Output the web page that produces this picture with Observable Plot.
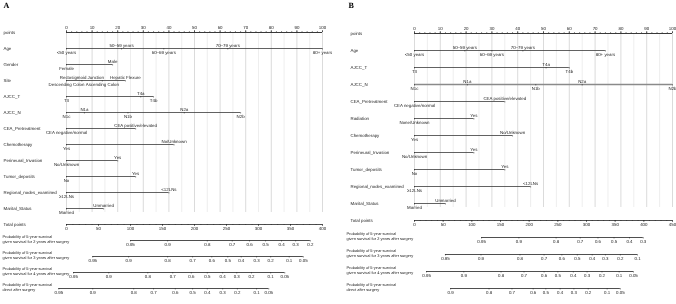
<!DOCTYPE html>
<html><head><meta charset="utf-8">
<script src="https://cdn.jsdelivr.net/npm/d3@7"></script>
<script src="https://cdn.jsdelivr.net/npm/@observablehq/plot@0.6"></script>
<style>
body{margin:0;background:#fff;}
#wrap{display:flex;width:676px;height:304px;overflow:hidden;background:#fff;}
#wrap svg{display:block;will-change:transform;-webkit-font-smoothing:antialiased;text-rendering:geometricPrecision;}
</style></head><body><div id="wrap"></div>
<script>
// ---------------- Panel A data ----------------
const aRows = ["points","Age","Gender","Site","AJCC_T","AJCC_N","CEA_Pretreatment","Chemotherapy","Perineural_Invasion","Tumor_deposits","Regional_nodes_examined","Marital_Status","Total points","p2","p3","p4","p0"];
const aAgeLevels = ["<50 years","50–59 years","60–69 years","70–79 years","80+ years"];
const aAgePoints = [0,21.5,38,63,100];
const aGenderLevels = ["Female","Male"];
const aGenderPoints = [0,18];
const aSiteLevels = ["Descending Colon","Rectosigmoid Junction","Ascending Colon","Hepatic Flexure"];
const aSitePoints = [0,6,14,23];
const aTLevels = ["T3","T4a","T4b"];
const aTPoints = [0,29,34];
const aNLevels = ["N1c","N1a","N1b","N2a","N2b"];
const aNPoints = [0,7,24,46,68];
const aCEALevels = ["CEA negative/normal","CEA positive/elevated"];
const aCEAPoints = [0,27];
const aChemoLevels = ["Yes","No/Unknown"];
const aChemoPoints = [0,42];
const aPeriLevels = ["No/Unknown","Yes"];
const aPeriPoints = [0,20];
const aTumorLevels = ["No","Yes"];
const aTumorPoints = [0,27];
const aNodesLevels = ["≥12LNs","<12LNs"];
const aNodesPoints = [0,40];
const aMaritalLevels = ["Married","Unmarried"];
const aMaritalPoints = [0,14.5];
const aTotalMax = 400;
const aP2Probs = [0.95,0.9,0.8,0.7,0.6,0.5,0.4,0.3,0.2];
const aP2Total = [100,158,220,259,286,311,336,358,381];
const aP3Probs = [0.95,0.9,0.8,0.7,0.6,0.5,0.4,0.3,0.2,0.1,0.05];
const aP3Total = [41,97,158,197,227,252,273,297,319,348,370];
const aP4Probs = [0.95,0.9,0.8,0.7,0.6,0.5,0.4,0.3,0.2,0.1,0.05];
const aP4Total = [11,66,127,166,195,220,244,266,289,319,341];
const aP0Probs = [0.95,0.9,0.8,0.7,0.6,0.5,0.4,0.3,0.2,0.1,0.05];
const aP0Total = [-12,41,105,136,170,197,220,244,267,297,316];

// ---------------- Panel B data ----------------
const bRows = ["points","Age","AJCC_T","AJCC_N","CEA_Pretreatment","Radiation","Chemotherapy","Perineural_Invasion","Tumor_deposits","Regional_nodes_examined","Marital_Status","Total points","p2","p3","p4","p0"];
const bAgeLevels = ["<50 years","50–59 years","60–69 years","70–79 years","80+ years"];
const bAgePoints = [0,19.5,30,42,74];
const bTLevels = ["T3","T4a","T4b"];
const bTPoints = [0,51,60];
const bNLevels = ["N1c","N1a","N1b","N2a","N2b"];
const bNPoints = [0,20.5,47,65,100];
const bCEALevels = ["CEA negative/normal","CEA positive/elevated"];
const bCEAPoints = [0,35];
const bRadLevels = ["None/Unknown","Yes"];
const bRadPoints = [0,23];
const bChemoLevels = ["Yes","No/Unknown"];
const bChemoPoints = [0,38];
const bPeriLevels = ["No/Unknown","Yes"];
const bPeriPoints = [0,23];
const bTumorLevels = ["No","Yes"];
const bTumorPoints = [0,35];
const bNodesLevels = ["≥12LNs","<12LNs"];
const bNodesPoints = [0,45];
const bMaritalLevels = ["Married","Unmarried"];
const bMaritalPoints = [0,12];
const bTotalMax = 450;
const bP2Probs = [0.95,0.9,0.8,0.7,0.6,0.5,0.4,0.3];
const bP2Total = [117,182,247,289,320,348,375,399];
const bP3Probs = [0.95,0.9,0.8,0.7,0.6,0.5,0.4,0.3,0.2,0.1];
const bP3Total = [54,116,184,226,257,284,310,333,359,389];
const bP4Probs = [0.95,0.9,0.8,0.7,0.6,0.5,0.4,0.3,0.2,0.1,0.05];
const bP4Total = [21,86,151,191,226,250,277,301,327,357,382];
const bP0Probs = [0.9,0.8,0.7,0.6,0.5,0.4,0.3,0.2,0.1,0.05];
const bP0Total = [63,130,170,207,229,254,278,303,336,359];

const probLabels = {
  p2: "Probability of 5-year survival\ngiven survival for 2 years after surgery",
  p3: "Probability of 5-year survival\ngiven survival for 3 years after surgery",
  p4: "Probability of 5-year survival\ngiven survival for 4 years after surgery",
  p0: "Probability of 5-year survival\ndirect after surgery"
};

function panel(P) {
  const cats = [], lines = [];
  P.vars.forEach(v => {
    v.levels.forEach((lab, i) => cats.push({row: v.name, label: lab, pts: v.points[i], above: i % 2 === 1}));
    lines.push({row: v.name, x1: d3.min(v.points), x2: d3.max(v.points), grey: !!v.grey});
  });
  const probs = [], probLines = [];
  P.probRows.forEach(r => {
    r.probs.forEach((p, i) => probs.push({row: r.id, label: String(p), x: r.total[i] / P.totalScale}));
    probLines.push({row: r.id, x1: d3.min(r.total) / P.totalScale, x2: d3.max(r.total) / P.totalScale});
  });
  const totalTicks = d3.range(0, P.totalMax + 1, 50);
  const totalMinor = d3.range(0, P.totalMax + 1, 10);
  const ptTicks = d3.range(0, 101, 10);
  const ptMinor = d3.range(0, 101, 2);
  const grid5 = d3.range(0, 101, 5);
  const lastVar = P.vars[P.vars.length - 1].name;
  const fs = 4.4;
  const ink = "#222";
  const varRows = P.rows.filter(r => !probLabels[r]);
  const pRows = P.rows.filter(r => probLabels[r]);
  return Plot.plot({
    width: 338, height: 304, margin: 0,
    x: {domain: [0, 100], range: P.xRange, axis: null},
    y: {type: "point", domain: P.rows, range: P.yRange, axis: null},
    style: {fontFamily: "'Liberation Sans', Arial, sans-serif", background: "transparent", color: ink},
    marks: [
      // grid
      Plot.ruleX(grid5, {x: d => d, y1: () => "points", y2: () => lastVar, insetBottom: -4, stroke: d => d % 10 === 0 ? "#cbcbcb" : "#e6e6e6", strokeWidth: 0.7}),
      // points axis
      Plot.ruleY(["points"], {y: d => d, x1: () => 0, x2: () => 100, stroke: ink, strokeWidth: 0.9}),
      Plot.ruleX(ptMinor, {x: d => d, y1: () => "points", y2: () => "points", insetTop: -1, stroke: ink, strokeWidth: 0.5}),
      Plot.ruleX(ptTicks, {x: d => d, y1: () => "points", y2: () => "points", insetTop: -2, stroke: ink, strokeWidth: 0.6}),
      Plot.text(ptTicks, {x: d => d, y: () => "points", text: d => String(d), dy: -5, fontSize: fs, fill: ink}),
      // variable lines
      Plot.ruleY(lines, {y: "row", x1: "x1", x2: "x2", stroke: d => d.grey ? "#8a8a8a" : "#3a3a3a", strokeWidth: d => d.grey ? 1.3 : 0.8}),
      Plot.ruleX(cats, {x: "pts", y1: "row", y2: "row", insetBottom: -1.5, stroke: ink, strokeWidth: 0.5}),
      Plot.text(cats.filter(d => d.above), {x: "pts", y: "row", text: "label", dy: -3.2, fontSize: fs, fill: ink}),
      Plot.text(cats.filter(d => !d.above), {x: "pts", y: "row", text: "label", dy: 4, fontSize: fs, fill: ink}),
      // total points axis
      Plot.ruleY(["Total points"], {y: d => d, x1: () => 0, x2: () => P.totalMax / P.totalScale, stroke: ink, strokeWidth: 0.8}),
      Plot.ruleX(totalMinor, {x: d => d / P.totalScale, y1: () => "Total points", y2: () => "Total points", insetBottom: -1, stroke: ink, strokeWidth: 0.5}),
      Plot.ruleX(totalTicks, {x: d => d / P.totalScale, y1: () => "Total points", y2: () => "Total points", insetBottom: -2, stroke: ink, strokeWidth: 0.6}),
      Plot.text(totalTicks, {x: d => d / P.totalScale, y: () => "Total points", text: d => String(d), dy: 4.5, fontSize: fs, fill: ink}),
      // probability axes
      Plot.ruleY(probLines, {y: "row", x1: "x1", x2: "x2", stroke: ink, strokeWidth: 0.8}),
      Plot.ruleX(probs, {x: "x", y1: "row", y2: "row", insetBottom: -1.5, stroke: ink, strokeWidth: 0.5}),
      Plot.text(probs, {x: "x", y: "row", text: "label", dy: 4.5, fontSize: fs, fill: ink}),
      // row labels
      Plot.text(varRows, {y: d => d, text: d => d, frameAnchor: "left", textAnchor: "start", dx: P.labelX, fontSize: fs, fill: ink}),
      Plot.text(pRows, {y: d => d, text: d => probLabels[d], frameAnchor: "left", textAnchor: "start", dx: P.probLabelX, dy: -1.6, fontSize: 3.95, lineHeight: 1.35, fill: ink}),
      // panel letter
      Plot.text([P.letter], {frameAnchor: "top-left", dx: P.letterX, dy: 2, lineAnchor: "top", text: d => d, fontWeight: "bold", fontSize: 8, fontFamily: "'Liberation Serif', serif", fill: "#000"})
    ]
  });
}

const A = panel({
  letter: "A", letterX: 3, labelX: 3, probLabelX: 2,
  rows: aRows, xRange: [66, 322], yRange: [21, 298],
  totalMax: aTotalMax, totalScale: aTotalMax / 100,
  vars: [
    {name: "Age", levels: aAgeLevels, points: aAgePoints},
    {name: "Gender", levels: aGenderLevels, points: aGenderPoints},
    {name: "Site", levels: aSiteLevels, points: aSitePoints},
    {name: "AJCC_T", levels: aTLevels, points: aTPoints},
    {name: "AJCC_N", levels: aNLevels, points: aNPoints},
    {name: "CEA_Pretreatment", levels: aCEALevels, points: aCEAPoints},
    {name: "Chemotherapy", levels: aChemoLevels, points: aChemoPoints},
    {name: "Perineural_Invasion", levels: aPeriLevels, points: aPeriPoints},
    {name: "Tumor_deposits", levels: aTumorLevels, points: aTumorPoints},
    {name: "Regional_nodes_examined", levels: aNodesLevels, points: aNodesPoints},
    {name: "Marital_Status", levels: aMaritalLevels, points: aMaritalPoints}
  ],
  probRows: [
    {id: "p2", probs: aP2Probs, total: aP2Total},
    {id: "p3", probs: aP3Probs, total: aP3Total},
    {id: "p4", probs: aP4Probs, total: aP4Total},
    {id: "p0", probs: aP0Probs, total: aP0Total}
  ]
});

const B = panel({
  letter: "B", letterX: 10, labelX: 12, probLabelX: 8,
  rows: bRows, xRange: [76, 334], yRange: [21, 299],
  totalMax: bTotalMax, totalScale: bTotalMax / 100,
  vars: [
    {name: "Age", levels: bAgeLevels, points: bAgePoints},
    {name: "AJCC_T", levels: bTLevels, points: bTPoints},
    {name: "AJCC_N", levels: bNLevels, points: bNPoints, grey: true},
    {name: "CEA_Pretreatment", levels: bCEALevels, points: bCEAPoints},
    {name: "Radiation", levels: bRadLevels, points: bRadPoints},
    {name: "Chemotherapy", levels: bChemoLevels, points: bChemoPoints},
    {name: "Perineural_Invasion", levels: bPeriLevels, points: bPeriPoints},
    {name: "Tumor_deposits", levels: bTumorLevels, points: bTumorPoints},
    {name: "Regional_nodes_examined", levels: bNodesLevels, points: bNodesPoints},
    {name: "Marital_Status", levels: bMaritalLevels, points: bMaritalPoints}
  ],
  probRows: [
    {id: "p2", probs: bP2Probs, total: bP2Total},
    {id: "p3", probs: bP3Probs, total: bP3Total},
    {id: "p4", probs: bP4Probs, total: bP4Total},
    {id: "p0", probs: bP0Probs, total: bP0Total}
  ]
});

document.getElementById("wrap").append(A, B);
</script>
</body></html>
